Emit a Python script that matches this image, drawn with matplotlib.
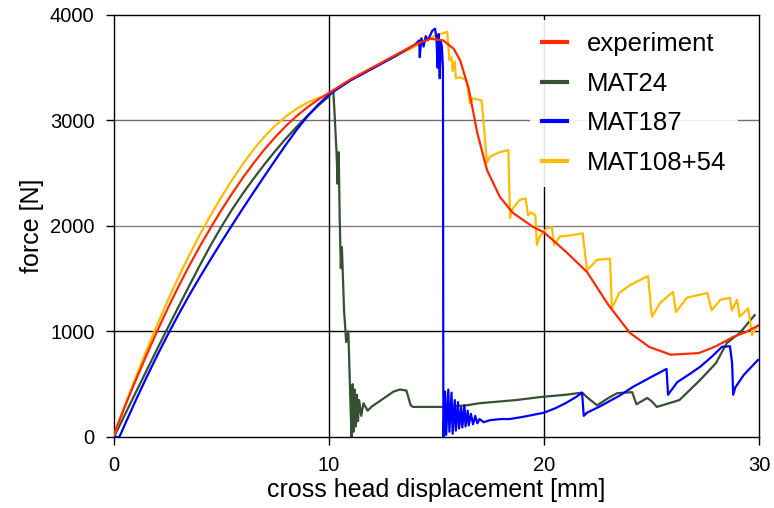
import matplotlib
matplotlib.use("Agg")
import matplotlib.pyplot as plt

# experiment (red)
exp_x = [0, 0.5, 1, 1.5, 2, 2.5, 3, 3.5, 4, 4.5, 5, 5.5, 6, 6.5, 7, 7.5, 8, 8.5, 9,
         9.5, 10, 11, 12, 13, 14, 14.7, 15.3, 15.8, 16.1, 16.5, 16.9, 17.35, 17.95,
         18.56, 19.5, 20, 21, 22, 23, 24, 24.9, 25.9, 27.2, 28.0, 28.8, 29.4, 30]
exp_y = [30, 286, 533, 771, 1000, 1219, 1427, 1624, 1810, 1985, 2152, 2310, 2459,
         2598, 2726, 2843, 2949, 3043, 3126, 3198, 3262, 3390, 3500, 3610, 3720, 3775,
         3760, 3680, 3570, 3300, 2880, 2530, 2275, 2123, 1990, 1940, 1760, 1564, 1250,
         986, 853, 780, 795, 860, 948, 995, 1060]

# MAT24 (dark green)
m24_x = [0, 0.5, 1, 1.5, 2, 2.5, 3, 3.5, 4, 4.5, 5, 5.5, 6, 6.5, 7, 7.5, 8, 8.5, 9,
         9.5, 10, 10.2, 10.25, 10.35, 10.4, 10.45, 10.5, 10.55, 10.6, 10.7, 10.8,
         10.9, 11.0, 11.05, 11.1, 11.15, 11.2, 11.25, 11.3, 11.35, 11.4, 11.5, 11.6,
         11.8, 12.0, 12.5, 13.0, 13.3, 13.6, 13.8, 13.9, 15.3, 16.4, 17.0, 18.7, 19.9,
         21.0, 21.77, 22.1, 22.47, 23.0, 23.4, 24.1, 24.3, 24.8, 25.0, 25.25, 26.3,
         27.26, 28.0, 28.5, 29.1, 29.8]
m24_y = [0, 209, 417, 624, 830, 1034, 1235, 1434, 1630, 1819, 1995, 2159, 2310, 2451,
         2585, 2711, 2830, 2941, 3045, 3141, 3230, 3285, 3100, 2700, 2400, 2700, 2050,
         1600, 1800, 1200, 900, 1000, 300, 0, 500, 50, 450, 100, 400, 150, 350, 200,
         320, 250, 290, 360, 430, 450, 440, 300, 285, 285, 300, 320, 350, 380, 400,
         420, 360, 300, 370, 415, 425, 310, 370, 340, 285, 350, 540, 700, 890, 985,
         1155]

# MAT187 (blue)
m187_x = [0, 0.25, 0.5, 1, 1.5, 2, 2.5, 3, 3.5, 4, 4.5, 5, 5.5, 6, 6.5, 7, 7.5, 8,
          8.5, 9, 9.5, 10, 11, 12, 13, 14.0, 14.2, 14.22, 14.3, 14.4, 14.5, 14.6,
          14.8, 14.93, 15.0, 15.05, 15.1, 15.15, 15.2, 15.25, 15.3, 15.32, 15.4,
          15.45, 15.55, 15.6, 15.7, 15.75, 15.85, 15.9, 16.0, 16.05, 16.15, 16.2,
          16.3, 16.35, 16.45, 16.5, 16.6, 16.7, 16.8, 16.9, 17.0, 17.2, 17.5, 18.0,
          18.4, 19.0, 19.5, 20.0, 20.5, 21.0, 21.5, 21.77, 21.85, 22.0, 22.6, 23.5,
          24.14, 25.0, 25.7, 25.77, 26.2, 26.8, 27.26, 27.8, 28.28, 28.65, 28.75,
          28.8, 28.9, 29.3, 29.95]
m187_y = [0, 0, 116, 342, 560, 769, 969, 1161, 1344, 1518, 1686, 1850, 2011, 2168,
          2322, 2474, 2624, 2772, 2913, 3040, 3151, 3245, 3380, 3490, 3600, 3720,
          3760, 3600, 3780, 3700, 3800, 3760, 3850, 3870, 3780, 3500, 3820, 3400,
          3750, 3700, 3500, 0, 430, 20, 450, 50, 420, 30, 350, 60, 330, 80, 280, 90,
          300, 100, 250, 110, 220, 120, 200, 130, 170, 140, 160, 170, 170, 190, 210,
          230, 270, 320, 380, 420, 200, 230, 290, 390, 475, 570, 645, 400, 520, 600,
          665, 760, 855, 860, 700, 400, 470, 590, 730]

# MAT108+54 (yellow)
m108_x = [0, 0.5, 1, 1.5, 2, 2.5, 3, 3.5, 4, 4.5, 5, 5.5, 6, 6.5, 7, 7.5, 8, 8.5, 9,
          9.5, 10, 11, 12, 13, 14, 14.9, 15.5, 15.55, 15.6, 15.7, 15.75, 15.85, 15.9,
          16.1, 16.4, 16.55, 16.7, 17.1, 17.35, 17.5, 17.95, 18.34, 18.42, 18.5,
          18.74, 18.9, 19.15, 19.26, 19.4, 19.6, 19.67, 19.8, 20.14, 20.37, 20.47,
          20.74, 21.2, 21.8, 22.0, 22.47, 23.07, 23.16, 23.5, 24.0, 24.84, 25.02,
          25.4, 26.0, 26.14, 26.65, 27.6, 27.8, 28.2, 28.65, 28.74, 28.98, 29.1,
          29.5, 29.67, 29.9, 30]
m108_y = [20, 295, 560, 815, 1060, 1294, 1515, 1724, 1920, 2104, 2277, 2439, 2590,
          2727, 2848, 2952, 3040, 3112, 3170, 3212, 3250, 3380, 3490, 3600, 3700, 3800,
          3840, 3700, 3570, 3600, 3470, 3560, 3400, 3410, 3380, 3160, 3210, 3190, 2600,
          2660, 2700, 2720, 2075, 2150, 2215, 2250, 2260, 2100, 2130, 2100, 1820, 1900,
          1980, 1990, 1820, 1900, 1910, 1930, 1580, 1680, 1690, 1220, 1365, 1440,
          1525, 1140, 1270, 1375, 1185, 1320, 1365, 1200, 1300, 1320, 1200, 1300,
          1140, 1220, 965, 1045, 1060]

plt.rcParams["font.family"] = ["Liberation Sans", "DejaVu Sans"]

fig = plt.figure(figsize=(7.74, 5.08), dpi=100)
ax = fig.add_axes([0.1473, 0.1398, 0.8333, 0.8307])

for yv, col in [(1000, "black"), (2000, "#808080"), (3000, "#707070")]:
    ax.axhline(yv, color=col, lw=1, zorder=1)
for xv in [10, 20]:
    ax.axvline(xv, color="black", lw=1, zorder=1)

ax.plot(m24_x, m24_y, color="#355032", lw=1.6, label="MAT24", zorder=2)
ax.plot(m108_x, m108_y, color="#ffbb00", lw=1.6, label="MAT108+54", zorder=3)
ax.plot(m187_x, m187_y, color="#0000ff", lw=1.6, label="MAT187", zorder=4)
ax.plot(exp_x, exp_y, color="#ff2a00", lw=1.6, label="experiment", zorder=5)

ax.set_xlim(0, 30)
ax.set_ylim(0, 4000)
ax.set_xticks([0, 10, 20, 30])
ax.set_yticks([0, 1000, 2000, 3000, 4000])
ax.tick_params(labelsize=14.5, length=6, width=1, direction="out", pad=8)
for s in ax.spines.values():
    s.set_color("black")
    s.set_linewidth(1)

ax.set_xlabel("cross head displacement [mm]", fontsize=18, labelpad=2)
ax.set_ylabel("force [N]", fontsize=18, labelpad=4)

handles, labels = ax.get_legend_handles_labels()
order = [3, 0, 2, 1]
leg = ax.legend([handles[i] for i in order], [labels[i] for i in order],
                loc="upper left", bbox_to_anchor=(0.645, 0.988), fontsize=18.5,
                frameon=True, handlelength=1.0, handletextpad=0.78,
                labelspacing=0.62, borderpad=0.45, borderaxespad=0,
                fancybox=False)
leg.get_frame().set_edgecolor("none")
leg.get_frame().set_facecolor("white")
leg.get_frame().set_alpha(0.9)
for line in leg.get_lines():
    line.set_linewidth(3)

fig.savefig("out.png", dpi=100)
